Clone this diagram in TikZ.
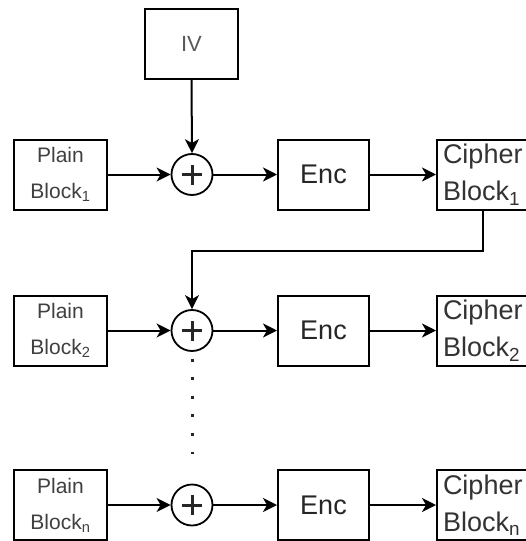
\documentclass[tikz,border=0pt]{standalone}
\usepackage{fontspec}
\setmainfont{Liberation Sans}
\usetikzlibrary{arrows.meta}
\begin{document}
\begin{tikzpicture}[x=1pt,y=-1pt,
  blk/.style={draw=black,line width=2pt,rectangle,minimum height=70pt,inner sep=0pt,fill=white},
  plainbox/.style={blk,minimum width=93pt,align=center,text=black!75,font=\fontsize{21}{36}\selectfont},
  encbox/.style={blk,minimum width=91pt,text=black!85,font=\fontsize{27}{32}\selectfont},
  cipherbox/.style={blk,anchor=west,inner xsep=6pt,text width=79pt,align=left,text=black!80,font=\fontsize{27}{37}\selectfont},
  ivbox/.style={blk,minimum width=93pt,text=black!65,font=\fontsize{22}{26}\selectfont},
  xorop/.style={draw=black,line width=1.8pt,circle,minimum size=41pt,inner sep=0pt,
    path picture={\draw[line width=3pt,black!85]
      ([xshift=-10pt]path picture bounding box.center) -- ([xshift=10pt]path picture bounding box.center)
      ([yshift=-10pt]path picture bounding box.center) -- ([yshift=10pt]path picture bounding box.center);}},
  arr/.style={draw=black,line width=2pt,-{Stealth[length=14pt,width=14pt,inset=4pt]}},
  dotline/.style={draw=black!85,line width=3pt,dash pattern=on 3pt off 15.6pt}
]
\useasboundingbox (0,0) rectangle (526,541);
% IV
\node[ivbox] (iv) at (191.5,44) {IV};
% row 1
\node[plainbox] (p1) at (60.5,174.5) {Plain\\Block\textsubscript{1}};
\node[xorop] (c1) at (192,174.5) {};
\node[encbox] (e1) at (323.5,174.5) {Enc};
\node[cipherbox] (k1) at (436,174.5) {Cipher\\Block\textsubscript{1}};
% row 2
\node[plainbox] (p2) at (60.5,330.5) {Plain\\Block\textsubscript{2}};
\node[xorop] (c2) at (192,330.5) {};
\node[encbox] (e2) at (323.5,330.5) {Enc};
\node[cipherbox] (k2) at (436,330.5) {Cipher\\Block\textsubscript{2}};
% row n
\node[plainbox] (pn) at (60.5,505) {Plain\\Block\textsubscript{n}};
\node[xorop] (cn) at (192,505) {};
\node[encbox] (en) at (323.5,505) {Enc};
\node[cipherbox] (kn) at (436,505) {Cipher\\Block\textsubscript{n}};
% connectors
\draw[arr] (iv.south) -- (c1.north);
\draw[arr] (p1.east) -- (c1.west);
\draw[arr] (c1.east) -- (e1.west);
\draw[arr] (e1.east) -- (k1.west);
\draw[arr] (k1.south) -- ++(0,40) -| (c2.north);
\draw[arr] (p2.east) -- (c2.west);
\draw[arr] (c2.east) -- (e2.west);
\draw[arr] (e2.east) -- (k2.west);
\draw[arr] (pn.east) -- (cn.west);
\draw[arr] (cn.east) -- (en.west);
\draw[arr] (en.east) -- (kn.west);
% dots
\coordinate (dots) at (192,358.5);
\coordinate (dote) at (192,454);
\draw[dotline] (dots) -- (dote);
\end{tikzpicture}
\end{document}
